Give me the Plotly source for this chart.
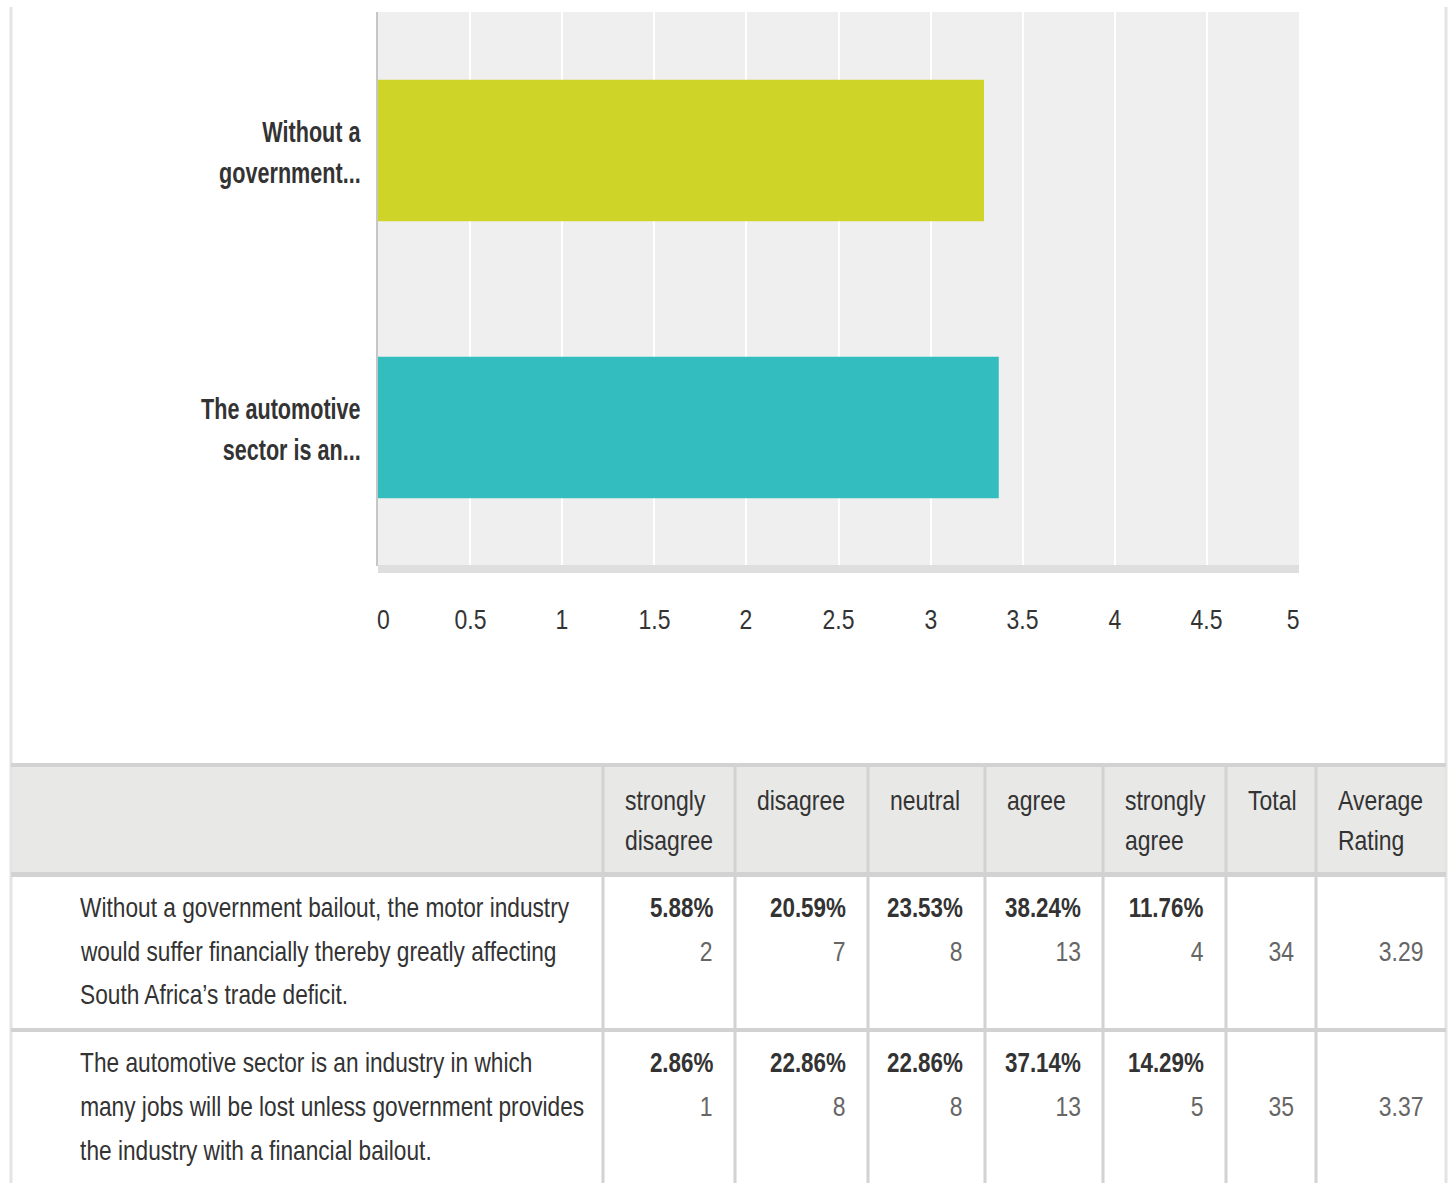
import json
import plotly.graph_objects as go

# ---- data ----
bar_labels = [["Without a", "government..."], ["The automotive", "sector is an..."]]
avg_rating = [3.29, 3.37]
bar_colors = ["#cfd429", "#33bdbf"]

x_ticks = [0, 0.5, 1, 1.5, 2, 2.5, 3, 3.5, 4, 4.5, 5]

header_labels = [["strongly", "disagree"], ["disagree"], ["neutral"], ["agree"],
                 ["strongly", "agree"], ["Total"], ["Average", "Rating"]]
question_lines = [
    ["Without a government bailout, the motor industry",
     "would suffer financially thereby greatly affecting",
     "South Africa\u2019s trade deficit."],
    ["The automotive sector is an industry in which",
     "many jobs will be lost unless government provides",
     "the industry with a financial bailout."],
]
percentages = [
    ["5.88%", "20.59%", "23.53%", "38.24%", "11.76%"],
    ["2.86%", "22.86%", "22.86%", "37.14%", "14.29%"],
]
counts = [
    [2, 7, 8, 13, 4],
    [1, 8, 8, 13, 5],
]
totals = [34, 35]

# ---- page geometry (pixels) ----
W, H = 1453, 1183
FONT = "Liberation Sans, Arial, sans-serif"
DARK = "#333333"
GREY = "#666666"
BORDER = "#d2d2d2"
TXT = 28


def px(x):
    return x / W


def py(y):
    return 1 - y / H


cat_names = [" ".join(l) for l in bar_labels]

fig = go.Figure()
fig.add_trace(go.Bar(
    x=avg_rating,
    y=cat_names,
    orientation="h",
    marker=dict(color=bar_colors, line=dict(width=0)),
    width=0.51,
    hoverinfo="x",
))

shapes = []
annotations = []
squeeze = []  # per annotation: [horizontal scale, transform origin]


def note(scale, origin, **kw):
    kw.setdefault("showarrow", False)
    annotations.append(kw)
    squeeze.append([scale, origin])


# axis band under the plot area
shapes.append(dict(type="rect", xref="x domain", yref="paper",
                   x0=0, x1=1, y0=py(573), y1=py(565),
                   fillcolor="#dedede", line=dict(width=0), layer="above"))

# x tick labels (condensed), first and last pulled inside the plot width
for k, v in enumerate(x_ticks):
    last = len(x_ticks) - 1
    anchor = "left" if k == 0 else ("right" if k == last else "center")
    shift = -3 if k == 0 else (3 if k == last else 0)
    note(0.82, anchor, xref="x", yref="paper", x=v, y=py(620), xshift=shift,
         text="%g" % v, xanchor=anchor, yanchor="middle",
         font=dict(family=FONT, size=TXT, color=DARK))

# category labels, one annotation per line
for name, lines in zip(cat_names, bar_labels):
    for line, off in zip(lines, [19, -22]):
        note(0.72, "right", xref="paper", yref="y", x=px(363), y=name, yshift=off,
             text="<b>%s</b>" % line, xanchor="right", yanchor="middle",
             font=dict(family=FONT, size=30, color=DARK))

# outer container edges
for xe in (11, 1446):
    shapes.append(dict(type="line", xref="paper", yref="paper",
                       x0=px(xe), x1=px(xe), y0=py(7), y1=py(H),
                       line=dict(color="#e4e4e4", width=3)))

# ---- table ----
col_edges = [11, 603, 735, 868, 985, 1103, 1226, 1316, 1446]
tbl_top, head_bot, row_bounds = 763, 872, [(877, 1028), (1032, 1183)]

shapes.append(dict(type="rect", xref="paper", yref="paper",
                   x0=px(11), x1=px(1446), y0=py(head_bot), y1=py(767),
                   fillcolor="#e8e8e7", line=dict(width=0), layer="below"))
for y0, y1 in [(tbl_top, 767), (head_bot, 877), (1028, 1032)]:
    shapes.append(dict(type="rect", xref="paper", yref="paper",
                       x0=px(11), x1=px(1446), y0=py(y1), y1=py(y0),
                       fillcolor=BORDER, line=dict(width=0)))
for xe in col_edges[1:-1]:
    shapes.append(dict(type="line", xref="paper", yref="paper",
                       x0=px(xe), x1=px(xe), y0=py(767), y1=py(H),
                       line=dict(color=BORDER, width=3)))

# header text
for i, lines in enumerate(header_labels):
    x_left = col_edges[i + 1] + 20
    for j, line in enumerate(lines):
        note(0.82, "left", xref="paper", yref="paper", x=px(x_left), y=py(800 + 40 * j),
             text=line, xanchor="left", yanchor="middle",
             font=dict(family=FONT, size=TXT, color=DARK))

# body rows
for r, (top, bot) in enumerate(row_bounds):
    y_first = top + 30
    for j, line in enumerate(question_lines[r]):
        note(0.81, "left", xref="paper", yref="paper", x=px(78), y=py(y_first + 44 * j),
             text=line, xanchor="left", yanchor="middle",
             font=dict(family=FONT, size=TXT, color=DARK))
    for c in range(5):
        x_right = col_edges[c + 2] - 20
        note(0.8, "right", xref="paper", yref="paper", x=px(x_right), y=py(y_first),
             text="<b>%s</b>" % percentages[r][c], xanchor="right", yanchor="middle",
             font=dict(family=FONT, size=TXT, color=DARK))
        note(0.82, "right", xref="paper", yref="paper", x=px(x_right), y=py(y_first + 44),
             text=str(counts[r][c]), xanchor="right", yanchor="middle",
             font=dict(family=FONT, size=TXT, color=GREY))
    note(0.82, "right", xref="paper", yref="paper", x=px(col_edges[7] - 20),
         y=py(y_first + 44), text=str(totals[r]), xanchor="right", yanchor="middle",
         font=dict(family=FONT, size=TXT, color=GREY))
    note(0.82, "right", xref="paper", yref="paper", x=px(col_edges[8] - 20),
         y=py(y_first + 44), text="%.2f" % avg_rating[r], xanchor="right", yanchor="middle",
         font=dict(family=FONT, size=TXT, color=GREY))

fig.update_layout(
    width=W, height=H,
    margin=dict(l=0, r=0, t=0, b=0),
    paper_bgcolor="white",
    plot_bgcolor="#efefef",
    showlegend=False,
    shapes=shapes,
    annotations=annotations,
    xaxis=dict(
        domain=[px(378), px(1299)],
        range=[0, 5],
        tickvals=x_ticks,
        showticklabels=False,
        showgrid=True, gridcolor="white", gridwidth=2,
        zeroline=False, showline=False, ticks="",
        fixedrange=True,
    ),
    yaxis=dict(
        domain=[py(566), py(12)],
        range=[1.5, -0.5],
        categoryorder="array", categoryarray=cat_names,
        showticklabels=False, showgrid=False, zeroline=False,
        showline=True, linecolor="#c6c6c6", linewidth=2,
        fixedrange=True,
    ),
)

# page without the default body margin; annotation texts drawn in a condensed cut
post = (
    "document.body.style.margin='0';"
    "var sq=" + json.dumps(squeeze) + ";"
    "var gd=document.getElementById('{plot_id}');"
    "gd.querySelectorAll('g.annotation').forEach(function(g){"
    "var i=+g.getAttribute('data-index');var t=g.querySelector('text');var s=sq[i];"
    "if(!t||!s)return;"
    "t.style.transformBox='fill-box';"
    "t.style.transformOrigin=s[1]+' center';"
    "t.style.transform='scaleX('+s[0]+')';"
    "});"
)
fig.write_html("out.html", config={"displayModeBar": False}, post_script=post)
